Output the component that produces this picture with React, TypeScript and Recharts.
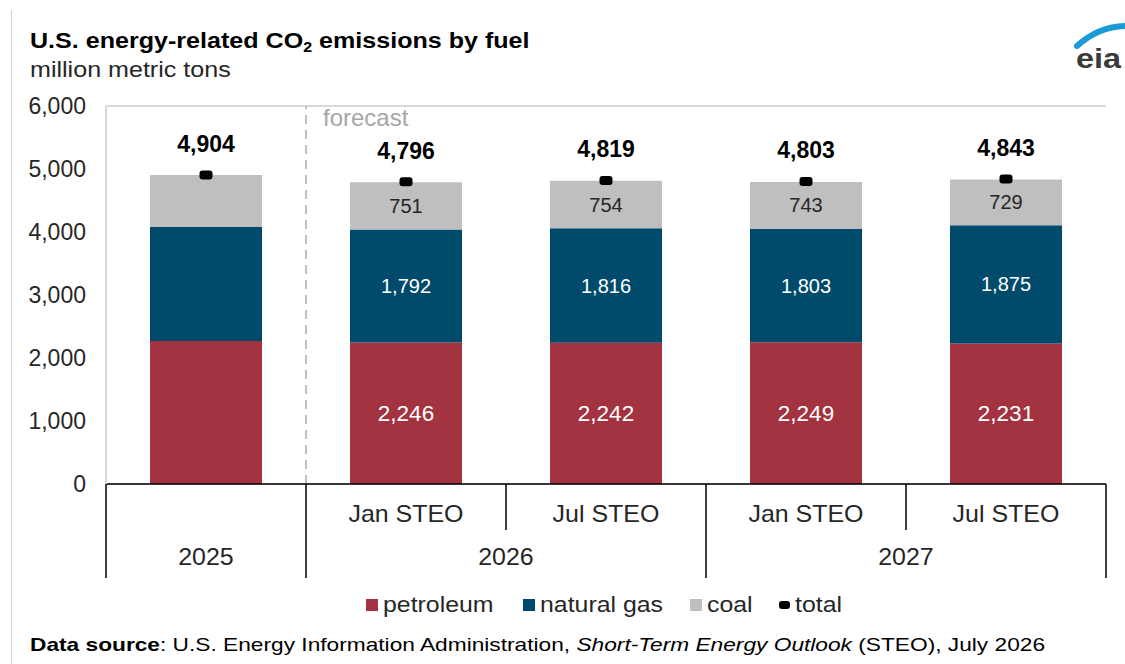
import { ComposedChart, Bar, Line, XAxis, YAxis, CartesianGrid, ReferenceLine, LabelList } from 'recharts';

const categories = ['2025', '2026 Jan', '2026 Jul', '2027 Jan', '2027 Jul'];
const subLabels = ['', 'Jan STEO', 'Jul STEO', 'Jan STEO', 'Jul STEO'];
const yearLabels = ['2025', '2026', '2026', '2027', '2027'];
const petroleum = [2270, 2246, 2242, 2249, 2231];
const naturalGas = [1810, 1792, 1816, 1803, 1875];
const coal = [824, 751, 754, 743, 729];
const total = [4904, 4796, 4819, 4803, 4843];
const yTicks = [0, 1000, 2000, 3000, 4000, 5000, 6000];

const data = categories.map((c, i) => ({
  cat: c,
  petroleum: petroleum[i],
  naturalGas: naturalGas[i],
  coal: coal[i],
  total: total[i],
}));

const FONT = '"Liberation Sans", Arial, sans-serif';
const fmt = (v: number) => v.toLocaleString('en-US');

// the source picture is a bit stretched sideways
const stretch = (x: number, y: number, k: number) => `translate(${x},${y}) scale(${k},1) translate(${-x},${-y})`;

const CategoryTick = (props: any) => {
  const { x, y, payload, width, visibleTicksCount } = props;
  const i = categories.indexOf(payload.value);
  const band = width / visibleTicksCount;
  const left = x - band / 2;
  const groupStart = i === 0 || yearLabels[i - 1] !== yearLabels[i];
  let span = 1;
  while (i + span < yearLabels.length && yearLabels[i + span] === yearLabels[i]) span++;
  const isLast = i === categories.length - 1;
  const gx = left + (span * band) / 2;
  return (
    <g>
      <line x1={left} x2={left} y1={y} y2={groupStart ? y + 94 : y + 46} stroke="#000" strokeWidth={1.5} />
      {isLast && <line x1={left + band} x2={left + band} y1={y} y2={y + 94} stroke="#000" strokeWidth={1.5} />}
      {subLabels[i] && (
        <text x={x} y={y + 30} textAnchor="middle" dominantBaseline="central" fontSize={24} fill="#262626" transform={stretch(x, y, 1.04)}>
          {subLabels[i]}
        </text>
      )}
      {groupStart && (
        <text x={gx} y={y + 73} textAnchor="middle" dominantBaseline="central" fontSize={24} fill="#262626" transform={stretch(gx, y, 1.04)}>
          {yearLabels[i]}
        </text>
      )}
    </g>
  );
};

const segmentLabel = (color: string, size: number) => (p: any) => {
  const { x, y, width, height, value, index } = p;
  if (index === 0) return null;
  return (
    <text x={x + width / 2} y={y + height / 2} textAnchor="middle" dominantBaseline="central" fontSize={size} fill={color}>
      {fmt(value)}
    </text>
  );
};

const TotalDot = (p: any) => {
  const { cx, cy, value, index } = p;
  return (
    <g key={`t${index}`}>
      <rect x={cx - 6.5} y={cy - 4.5} width={13} height={9} rx={3} fill="#000" />
      <text x={cx} y={cy - 31} textAnchor="middle" dominantBaseline="central" fontSize={23} fontWeight="bold" fill="#000">
        {fmt(value)}
      </text>
    </g>
  );
};

const legendItems = [
  { label: 'petroleum', color: '#a33340', dot: false, left: 366 },
  { label: 'natural gas', color: '#004b6b', dot: false, left: 523 },
  { label: 'coal', color: '#bfbfbf', dot: false, left: 690 },
  { label: 'total', color: '#000', dot: true, left: 779 },
];

const wide = (k: number): any => ({ display: 'inline-block', transform: `scaleX(${k})`, transformOrigin: 'left center', whiteSpace: 'nowrap' });

export default function App() {
  return (
    <div style={{ position: 'absolute', left: 0, top: 0, width: 1125, height: 664, background: '#fff', fontFamily: FONT, overflow: 'hidden' }}>
      <div style={{ position: 'absolute', left: 11, top: 10, width: 1, height: 654, background: '#d0d0d0' }} />
      <div style={{ position: 'absolute', left: 30, top: 28, fontSize: 22, fontWeight: 'bold', color: '#000' }}>
        <span style={wide(1.14)}>
          U.S. energy-related CO<sub style={{ fontSize: 14, verticalAlign: -4 }}>2</sub> emissions by fuel
        </span>
      </div>
      <div style={{ position: 'absolute', left: 30, top: 57, fontSize: 22, color: '#262626' }}>
        <span style={wide(1.14)}>million metric tons</span>
      </div>
      <svg style={{ position: 'absolute', left: 1060, top: 15 }} width={65} height={65}>
        <path d="M17 31 Q 40 10 70 11" stroke="#1a9ad6" strokeWidth={6} fill="none" strokeLinecap="round" />
        <text x={16} y={53} fontSize={27} fontWeight="bold" fill="#3a3a3a" fontFamily={FONT} transform={stretch(16, 53, 1.2)}>eia</text>
      </svg>
      <div style={{ position: 'absolute', left: 0, top: 0 }}>
        <ComposedChart width={1125} height={664} data={data} margin={{ top: 106, right: 19, left: 30, bottom: 86 }} barCategoryGap={0}>
          <CartesianGrid vertical={false} stroke="#d9d9d9" strokeWidth={2} />
          <XAxis dataKey="cat" axisLine={{ stroke: '#000', strokeWidth: 1.5 }} tickLine={false} tickSize={0} tickMargin={0} height={94} tick={<CategoryTick />} interval={0} />
          <YAxis yAxisId="left" width={76} domain={[0, 6000]} ticks={yTicks} tickFormatter={fmt} axisLine={{ stroke: '#d9d9d9', strokeWidth: 2 }} tickLine={false} tickMargin={14} tick={{ fontSize: 23, fill: '#262626' }} />
          <YAxis yAxisId="right" orientation="right" width={0} domain={[0, 6000]} tick={false} axisLine={{ stroke: '#d9d9d9', strokeWidth: 2 }} tickLine={false} />
          <ReferenceLine yAxisId="left" x={categories[0]} position="end" stroke="#bfbfbf" strokeWidth={2} strokeDasharray="9 6"
            label={(p: any) => (
              <text x={p.viewBox.x + 17} y={p.viewBox.y + 11} fontSize={24} fill="#a6a6a6" dominantBaseline="central">forecast</text>
            )}
          />
          <Bar yAxisId="left" dataKey="petroleum" stackId="a" fill="#a33340" barSize={112} isAnimationActive={false}>
            <LabelList dataKey="petroleum" content={segmentLabel('#fff', 22.5)} />
          </Bar>
          <Bar yAxisId="left" dataKey="naturalGas" stackId="a" fill="#004b6b" barSize={112} isAnimationActive={false}>
            <LabelList dataKey="naturalGas" content={segmentLabel('#fff', 20)} />
          </Bar>
          <Bar yAxisId="left" dataKey="coal" stackId="a" fill="#bfbfbf" barSize={112} isAnimationActive={false}>
            <LabelList dataKey="coal" content={segmentLabel('#262626', 20)} />
          </Bar>
          <Line yAxisId="left" dataKey="total" stroke="none" dot={<TotalDot />} activeDot={false} isAnimationActive={false} />
        </ComposedChart>
      </div>
      {legendItems.map((it) => (
        <div key={it.label} style={{ position: 'absolute', left: it.left, top: 591, height: 28, display: 'flex', alignItems: 'center', fontSize: 22, color: '#262626' }}>
          {it.dot ? (
            <div style={{ width: 11, height: 8, borderRadius: 3, background: it.color, marginRight: 5 }} />
          ) : (
            <div style={{ width: 12, height: 12, background: it.color, marginRight: 5 }} />
          )}
          <span style={wide(1.13)}>{it.label}</span>
        </div>
      ))}
      <div style={{ position: 'absolute', left: 30, top: 634, fontSize: 19, color: '#000' }}>
        <span style={wide(1.195)}>
          <b>Data source</b>: U.S. Energy Information Administration, <i>Short-Term Energy Outlook</i> (STEO), July 2026
        </span>
      </div>
    </div>
  );
}
